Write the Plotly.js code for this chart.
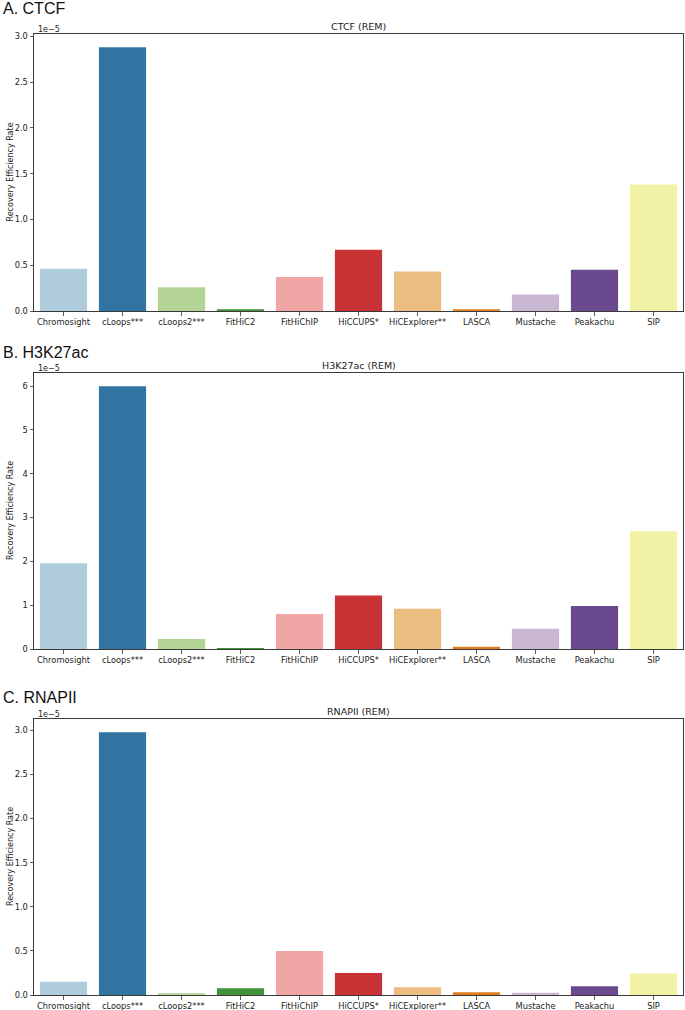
<!DOCTYPE html>
<html>
<head>
<meta charset="utf-8">
<script src="https://cdn.plot.ly/plotly-3.0.1.min.js"></script>
<style>html,body{margin:0;padding:0;background:#fff;}#chart{width:685px;height:1010px;}</style>
</head>
<body>
<div id="chart"></div>
<script>
// Tools (x categories)
const tools = ["Chromosight", "cLoops***", "cLoops2***", "FitHiC2", "FitHiChIP", "HiCCUPS*", "HiCExplorer**", "LASCA", "Mustache", "Peakachu", "SIP"];
// Recovery Efficiency Rate, in units of 1e-5
const ctcfREM    = [0.46, 2.88, 0.26, 0.02, 0.37, 0.67, 0.43, 0.02, 0.18, 0.45, 1.38];
const h3k27acREM = [1.96, 6.00, 0.23, 0.02, 0.80, 1.22, 0.92, 0.05, 0.46, 0.98, 2.69];
const rnapiiREM  = [0.15, 2.98, 0.02, 0.076, 0.50, 0.25, 0.088, 0.03, 0.025, 0.10, 0.245];
const scaleLabel = "1e\u22125";
const panelTitles = ["A. CTCF", "B. H3K27ac", "C. RNAPII"];
const subTitles = ["CTCF (REM)", "H3K27ac (REM)", "RNAPII (REM)"];
const yTitle = "Recovery Efficiency Rate";
// seaborn "Paired" palette, desaturated
const colors = ["#aeccdb", "#3274a1", "#b3d495", "#40923b", "#efa6a5", "#ca3335", "#ebbd81", "#df7f20", "#c9b7d2", "#6a498e", "#f2f2a6"];

const W = 685, H = 1010;
const left = 34, right = 683;
const panels = [
  {data: ctcfREM,    top: 34,  bottom: 311, dtick: 0.5, fmt: ".1f", head: 8.5},
  {data: h3k27acREM, top: 373, bottom: 649, dtick: 1,   fmt: "d",   head: 352},
  {data: rnapiiREM,  top: 719, bottom: 995, dtick: 0.5, fmt: ".1f", head: 697}
];
const py = p => 1 - p / H;
const px = p => p / W;

const traces = [];
const layout = {
  width: W, height: H,
  margin: {l: 0, r: 0, t: 0, b: 0},
  paper_bgcolor: "#fff", plot_bgcolor: "#fff",
  showlegend: false,
  font: {family: "DejaVu Sans", size: 8, color: "#222"},
  annotations: [],
  bargap: 0.2
};

panels.forEach((p, i) => {
  const n = i === 0 ? "" : String(i + 1);
  traces.push({
    type: "bar",
    x: tools,
    y: p.data,
    width: 0.8,
    marker: {color: colors, line: {width: 0}},
    xaxis: "x" + n,
    yaxis: "y" + n,
    hoverinfo: "skip"
  });
  const ymax = Math.max(...p.data) * 1.05;
  layout["xaxis" + n] = {
    domain: [px(left), px(right)],
    anchor: "y" + n,
    type: "category",
    range: [-0.5, 10.5],
    showgrid: false, zeroline: false,
    showline: true, linecolor: "#3a3a3a", linewidth: 1, mirror: true,
    ticks: "outside", ticklen: 3.5, tickwidth: 0.8, tickcolor: "#333",
    tickfont: {family: "DejaVu Sans", size: 8.3, color: "#222"},
    fixedrange: true
  };
  layout["yaxis" + n] = {
    domain: [py(p.bottom), py(p.top)],
    anchor: "x" + n,
    range: [0, ymax],
    dtick: p.dtick, tick0: 0, tickformat: p.fmt,
    showgrid: false, zeroline: false,
    showline: true, linecolor: "#3a3a3a", linewidth: 1, mirror: true,
    ticks: "outside", ticklen: 3.5, tickwidth: 0.8, tickcolor: "#333",
    tickfont: {family: "DejaVu Sans", size: 8.3, color: "#222"},
    fixedrange: true
  };
  // panel heading
  layout.annotations.push({
    xref: "paper", yref: "paper", x: px(1), y: py(p.head),
    xanchor: "left", yanchor: "middle", showarrow: false,
    text: panelTitles[i],
    font: {family: "Liberation Sans", size: 16, color: "#111"}
  });
  // subplot title
  layout.annotations.push({
    xref: "paper", yref: "paper", x: px((left + right) / 2), y: py(p.top - 8),
    xanchor: "center", yanchor: "middle", showarrow: false,
    text: subTitles[i],
    font: {family: "DejaVu Sans", size: 9.5, color: "#222"}
  });
  // offset text
  layout.annotations.push({
    xref: "paper", yref: "paper", x: px(left + 2), y: py(p.top - 4.5),
    xanchor: "left", yanchor: "middle", showarrow: false,
    text: scaleLabel,
    font: {family: "DejaVu Sans", size: 8, color: "#222"}
  });
  // y axis title
  layout.annotations.push({
    xref: "paper", yref: "paper", x: px(10), y: py((p.top + p.bottom) / 2),
    xanchor: "center", yanchor: "middle", showarrow: false, textangle: -90,
    text: yTitle,
    font: {family: "DejaVu Sans", size: 8, color: "#222"}
  });
});

Plotly.newPlot("chart", traces, layout, {staticPlot: true, displayModeBar: false});
</script>
</body>
</html>
